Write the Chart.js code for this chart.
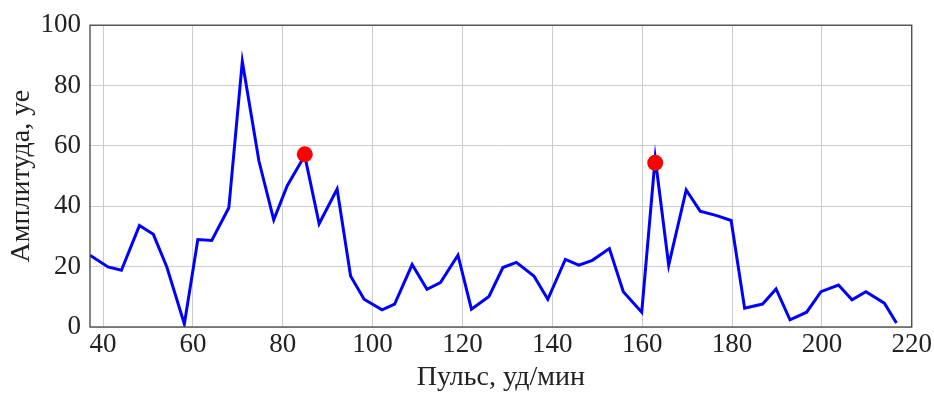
<!DOCTYPE html>
<html>
<head>
<meta charset="utf-8">
<script src="https://cdn.jsdelivr.net/npm/chart.js@4"></script>
<style>
html,body{margin:0;padding:0;background:#fff;}
#wrap{width:934px;height:394px;position:relative;}
</style>
</head>
<body>
<div id="wrap"><canvas id="c" width="934" height="394"></canvas></div>
<script>
// Pulse (bpm) and amplitude values
const pulse = [37.1, 41.1, 44.1, 48.1, 51.2, 54.2, 58.1, 61.1, 64.2, 68.0,
  71.0, 74.7, 78.0, 81.0, 84.9, 88.1, 92.1, 95.1, 98.1, 102.1,
  104.9, 108.8, 112.1, 115.1, 119.0, 122.0, 125.9, 129.0, 132.0, 135.9,
  139.0, 142.9, 145.9, 148.9, 152.7, 155.8, 159.9,
  162.9, 165.9, 169.8, 172.9, 176.6, 179.8, 182.8, 186.8, 189.8, 192.9,
  196.6, 199.8, 203.7, 206.7, 209.8, 213.9, 216.6];
const amplitude = [23.8, 19.9, 18.8, 33.6, 30.7, 19.9, 1.0, 29.0, 28.7, 39.5,
  88.0, 55.0, 35.5, 46.8, 56.8, 34.2, 45.7, 16.9, 9.2, 5.7,
  7.6, 20.7, 12.5, 14.7, 23.8, 5.9, 10.1, 19.7, 21.4, 16.9,
  9.2, 22.4, 20.5, 22.1, 26.0, 11.7, 4.9,
  56.0, 20.5, 45.4, 38.4, 36.9, 35.3, 6.2, 7.6, 12.6, 2.4,
  4.9, 11.7, 13.9, 9.0, 11.7, 7.9, 1.3];
const peakPulse = [84.9, 162.9];
const peakAmplitude = [57.2, 54.4];
const xTicks = [40, 60, 80, 100, 120, 140, 160, 180, 200, 220];
const yTicks = [0, 20, 40, 60, 80, 100];
const xTitle = 'Пульс, уд/мин';
const yTitle = 'Амплитуда, уе';

const FONT = "'Liberation Serif', 'DejaVu Serif', serif";

const frame = {
  id: 'frame',
  afterDatasetsDraw(chart) {
    const a = chart.chartArea, ctx = chart.ctx;
    ctx.save();
    ctx.strokeStyle = '#444';
    ctx.lineWidth = 1.3;
    ctx.strokeRect(a.left, a.top, a.right - a.left, a.bottom - a.top);
    ctx.restore();
  }
};

new Chart(document.getElementById('c'), {
  type: 'scatter',
  data: {
    datasets: [
      {
        data: peakPulse.map((x, i) => ({x, y: peakAmplitude[i]})),
        showLine: false,
        pointRadius: 8,
        pointBackgroundColor: '#ff0000',
        pointBorderWidth: 0,
        order: 0
      },
      {
        data: pulse.map((x, i) => ({x, y: amplitude[i]})),
        showLine: true,
        borderColor: '#0000ff',
        borderWidth: 3,
        pointRadius: 0,
        fill: false,
        tension: 0,
        order: 1
      }
    ]
  },
  options: {
    responsive: false,
    animation: false,
    devicePixelRatio: 1,
    layout: { padding: { left: 0, right: 22, top: 23, bottom: 0 } },
    plugins: { legend: { display: false }, tooltip: { enabled: false } },
    scales: {
      x: {
        type: 'linear',
        min: 37.1,
        max: 220,
        afterBuildTicks: s => { s.ticks = xTicks.map(v => ({value: v})); },
        afterFit: s => { s.height = 67; },
        grid: { color: '#cccccc', lineWidth: 1, drawTicks: false },
        border: { display: false },
        ticks: { color: '#222', font: { family: FONT, size: 27 }, padding: 2, maxRotation: 0, autoSkip: false },
        title: { display: true, text: xTitle, color: '#222', font: { family: FONT, size: 28 }, padding: { top: 0, bottom: 0 } }
      },
      y: {
        min: 0,
        max: 100,
        afterBuildTicks: s => { s.ticks = yTicks.map(v => ({value: v})); },
        afterFit: s => { s.width = 90; },
        grid: { color: '#cccccc', lineWidth: 1, drawTicks: false },
        border: { display: false },
        ticks: { color: '#222', font: { family: FONT, size: 27 }, padding: 9 },
        title: { display: true, text: yTitle, color: '#222', font: { family: FONT, size: 28 }, padding: { top: 5, bottom: 0 } }
      }
    }
  },
  plugins: [frame]
});
</script>
</body>
</html>
